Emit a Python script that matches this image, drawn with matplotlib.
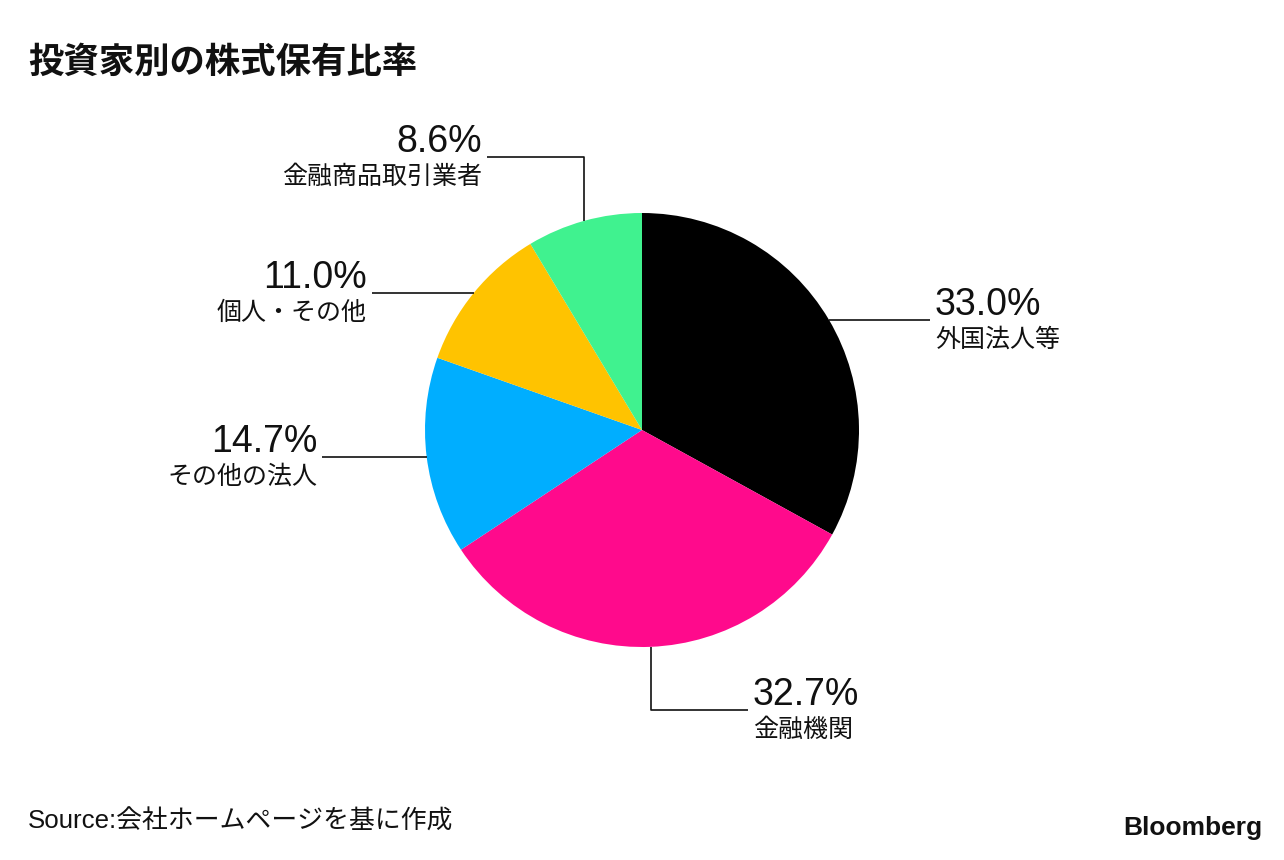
import numpy as np
import matplotlib.pyplot as plt

TITLE = "投資家別の株式保有比率"
SOURCE = "Source:会社ホームページを基に作成"

categories = ["外国法人等", "金融機関", "その他の法人", "個人・その他", "金融商品取引業者"]
shares = [33.0, 32.7, 14.7, 11.0, 8.6]
colors = ["#000000", "#ff0a8c", "#00aeff", "#ffc300", "#40f28f"]

W, H = 1284, 860
CX, CY, R = 642, 430, 217
JP = ["Noto Sans CJK JP", "DejaVu Sans"]
NUM = ["Liberation Sans", "Noto Sans CJK JP"]


def py(y):
    # pixel row (from top) -> data y
    return H - y


fig = plt.figure(figsize=(W / 100, H / 100), dpi=100)
ax = fig.add_axes([0, 0, 1, 1])
ax.set_xlim(0, W)
ax.set_ylim(0, H)
ax.set_aspect("equal")
ax.axis("off")

wedges, _ = ax.pie(
    shares,
    colors=colors,
    startangle=90,
    counterclock=False,
    center=(CX, py(CY)),
    radius=R,
    wedgeprops=dict(linewidth=0),
)
ax.set_xlim(0, W)
ax.set_ylim(0, H)

# leader line routes: (mode, end value[, second end]) per slice
routes = [
    ("h", 930),
    ("vh", 710, 748),
    ("h", 322),
    ("h", 372),
    ("vh", 157, 487),
]

for w, route, cat, val in zip(wedges, routes, categories, shares):
    ang = np.deg2rad((w.theta1 + w.theta2) / 2)
    x0 = CX + R * np.cos(ang)
    y0 = py(CY) + R * np.sin(ang)
    if route[0] == "h":
        xs, ys = [x0, route[1]], [y0, y0]
        xe, ye = route[1], y0
    else:
        xs = [x0, x0, route[2]]
        ys = [y0, py(route[1]), py(route[1])]
        xe, ye = route[2], py(route[1])
    ax.plot(xs, ys, color="#111111", lw=1.2, solid_capstyle="butt")
    right = xe > x0
    tx = xe + 5 if right else xe - 5
    ha = "left" if right else "right"
    ax.text(tx, ye + 5, f"{val:.1f}%", ha=ha, va="baseline",
            fontsize=27, family=NUM, color="#111111")
    ax.text(tx, ye - 7, cat, ha=ha, va="top",
            fontsize=18, family=JP, color="#111111")

ax.text(28, py(62), TITLE, ha="left", va="center", fontsize=25.5,
        fontweight="bold", family=JP, color="#111111")
ax.text(28, py(822), SOURCE, ha="left", va="center", fontsize=18.6,
        family=NUM, color="#111111")
ax.text(1262, py(828), "Bloomberg", ha="right", va="center", fontsize=19,
        fontweight="bold", family=NUM, color="#111111")

fig.savefig("out.png", dpi=100)
